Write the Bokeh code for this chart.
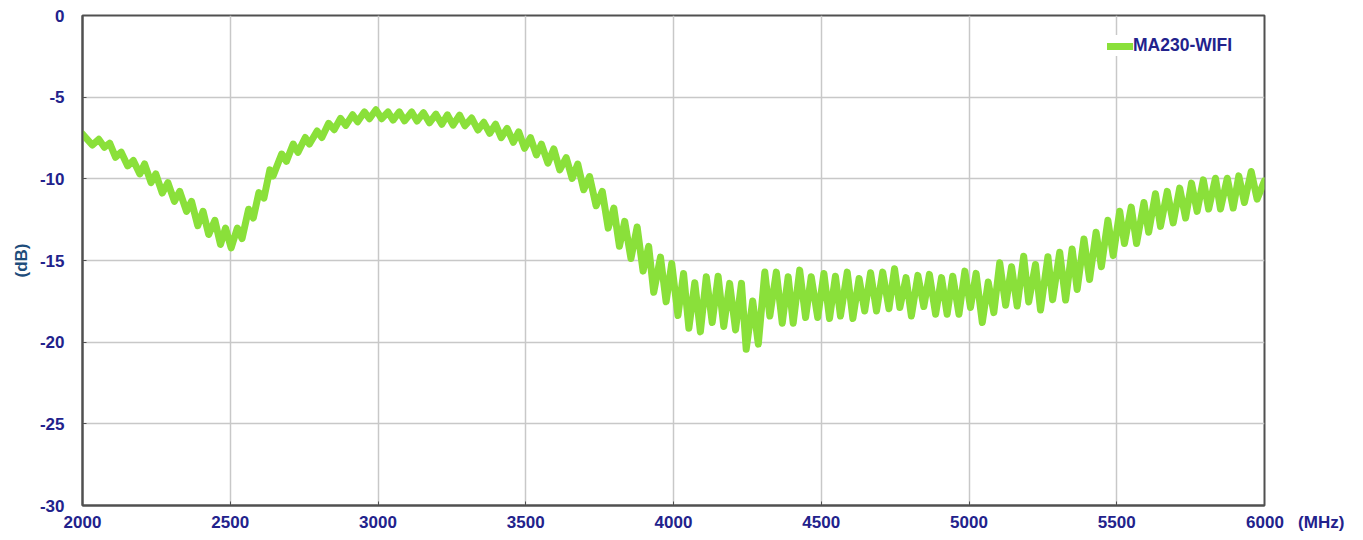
from bokeh.plotting import figure
from bokeh.models import Range1d, FixedTicker, Legend, LegendItem, ColumnDataSource
from bokeh.embed import file_html
from bokeh.resources import INLINE

# Frequency (MHz) of each read extremum of the measured trace
freq_mhz = [
    2000, 2033, 2055, 2074, 2092, 2112, 2131, 2153, 2172, 2194,
    2210, 2232, 2248, 2270, 2289, 2311, 2329, 2352, 2369, 2390,
    2408, 2427, 2448, 2467, 2484, 2503, 2524, 2540, 2562, 2578,
    2597, 2614, 2634, 2645, 2674, 2690, 2713, 2729, 2754, 2768,
    2794, 2810, 2833, 2852, 2873, 2891, 2914, 2931, 2954, 2971,
    2993, 3012, 3034, 3051, 3072, 3090, 3114, 3132, 3154, 3174,
    3196, 3216, 3235, 3254, 3276, 3294, 3317, 3338, 3358, 3378,
    3398, 3417, 3437, 3458, 3476, 3496, 3516, 3536, 3553, 3575,
    3595, 3615, 3637, 3657, 3676, 3696, 3716, 3738, 3759, 3779,
    3798, 3817, 3835, 3856, 3877, 3897, 3916, 3933, 3956, 3975,
    3994, 4015, 4034, 4052, 4072, 4091, 4111, 4131, 4151, 4170,
    4190, 4210, 4230, 4246, 4268, 4287, 4309, 4326, 4348, 4368,
    4388, 4405, 4427, 4447, 4466, 4488, 4509, 4528, 4548, 4565,
    4588, 4607, 4628, 4647, 4667, 4687, 4708, 4729, 4748, 4766,
    4787, 4805, 4827, 4847, 4866, 4887, 4907, 4926, 4945, 4966,
    4986, 5005, 5024, 5045, 5065, 5084, 5104, 5124, 5144, 5163,
    5185, 5202, 5225, 5242, 5267, 5283, 5307, 5327, 5349, 5366,
    5389, 5408, 5430, 5448, 5470, 5488, 5510, 5526, 5549, 5567,
    5592, 5608, 5631, 5648, 5671, 5691, 5713, 5733, 5753, 5772,
    5793, 5811, 5834, 5851, 5874, 5894, 5913, 5932, 5955, 5975,
    6000,
]

# Level (dB) of the MA230-WIFI trace at those frequencies
ma230_wifi_db = [
    -7.26, -7.93, -7.58, -8.07, -7.82, -8.68, -8.37, -9.21, -8.88, -9.70,
    -9.09, -10.23, -9.70, -10.87, -10.23, -11.38, -10.77, -11.99, -11.38, -12.87,
    -11.99, -13.41, -12.54, -14.02, -13.01, -14.23, -13.01, -13.66, -11.86, -12.40,
    -10.84, -11.18, -9.45, -9.82, -8.48, -8.93, -7.87, -8.38, -7.47, -7.87,
    -7.07, -7.47, -6.60, -6.99, -6.30, -6.73, -6.08, -6.51, -5.90, -6.32,
    -5.77, -6.32, -5.91, -6.40, -5.90, -6.45, -5.91, -6.46, -5.95, -6.57,
    -6.04, -6.66, -6.08, -6.71, -6.10, -6.75, -6.28, -7.01, -6.54, -7.21,
    -6.66, -7.48, -6.91, -7.76, -7.12, -8.13, -7.48, -8.54, -7.88, -9.04,
    -8.17, -9.45, -8.70, -9.98, -9.10, -10.67, -9.86, -11.65, -10.77, -13.02,
    -11.79, -14.13, -12.60, -14.88, -12.95, -15.65, -14.13, -16.95, -14.79, -17.53,
    -15.18, -18.37, -15.79, -19.15, -16.36, -19.37, -15.99, -18.80, -15.96, -19.04,
    -16.40, -19.25, -16.40, -20.43, -17.48, -20.12, -15.71, -18.40, -15.71, -18.84,
    -15.99, -18.84, -15.59, -18.49, -15.99, -18.49, -15.79, -18.55, -15.96, -18.40,
    -15.71, -18.55, -16.10, -18.09, -15.75, -18.09, -15.71, -17.95, -15.51, -17.88,
    -16.05, -18.40, -15.91, -17.82, -15.85, -18.29, -16.05, -18.29, -15.96, -18.29,
    -15.65, -17.88, -15.79, -18.80, -16.32, -18.19, -15.14, -17.74, -15.38, -17.79,
    -14.74, -17.54, -15.24, -18.03, -14.77, -17.40, -14.49, -17.42, -14.29, -16.77,
    -13.68, -16.16, -13.27, -15.38, -12.54, -14.70, -11.99, -13.96, -11.73, -13.96,
    -11.45, -13.27, -10.91, -12.91, -10.77, -12.70, -10.57, -12.40, -10.26, -11.99,
    -10.06, -11.85, -9.96, -11.85, -9.96, -11.79, -9.82, -11.45, -9.55, -11.24,
    -10.12,
]

series_name = "MA230-WIFI"
x_ticks = [2000, 2500, 3000, 3500, 4000, 4500, 5000, 5500, 6000]
y_ticks = [-30, -25, -20, -15, -10, -5, 0]
x_unit_label = "(MHz)"
y_unit_label = "(dB)"

GREEN = "#8AE03A"
NAVY = "#22228C"
AXIS = "#505050"
FONT = "Liberation Sans"
NBSP = "\u00a0"

p = figure(
    width=1355, height=534,
    output_backend="svg", toolbar_location=None,
    x_range=Range1d(2000, 6000), y_range=Range1d(-30, 0),
    min_border_left=82, min_border_right=91, min_border_top=15, min_border_bottom=27,
    background_fill_color="white", border_fill_color="white",
)
p.outline_line_color = AXIS
p.outline_line_width = 2

src = ColumnDataSource(dict(freq=freq_mhz, db=ma230_wifi_db))
r = p.line(x="freq", y="db", source=src, line_color=GREEN, line_width=7,
           line_join="round", line_cap="round")

p.xaxis.ticker = FixedTicker(ticks=x_ticks)
p.yaxis.ticker = FixedTicker(ticks=y_ticks)
for ax in (p.xaxis[0], p.yaxis[0]):
    ax.axis_line_color = AXIS
    ax.axis_line_width = 2
    ax.major_tick_in = 4
    ax.major_tick_out = 0
    ax.major_tick_line_color = AXIS
    ax.minor_tick_line_color = None
    ax.major_label_text_font = FONT
    ax.major_label_text_font_style = "bold"
    ax.major_label_text_font_size = "17px"
    ax.major_label_text_color = NAVY

# plain hyphen minus signs, and the unit written on the same line as the last tick
p.yaxis.major_label_overrides = {t: str(t) for t in y_ticks}
x_over = {t: str(t) for t in x_ticks}
x_over[x_ticks[-1]] = NBSP * 13 + str(x_ticks[-1]) + NBSP * 3 + x_unit_label
p.xaxis.major_label_overrides = x_over

p.xaxis.major_label_standoff = 7
p.yaxis.major_label_standoff = 18
p.yaxis.axis_label = y_unit_label
p.yaxis.axis_label_text_font = FONT
p.yaxis.axis_label_text_font_style = "bold"
p.yaxis.axis_label_text_font_size = "17px"
p.yaxis.axis_label_text_color = "#1E4D7B"
p.yaxis.axis_label_standoff = 6

p.xgrid.ticker = FixedTicker(ticks=x_ticks)
p.ygrid.ticker = FixedTicker(ticks=y_ticks)
p.grid.grid_line_color = "#C8C8C8"
p.grid.grid_line_width = 1.5

legend = Legend(
    items=[LegendItem(label=series_name, renderers=[r])],
    location=(1025, 449),
    background_fill_color="white", background_fill_alpha=1.0,
    border_line_color=None,
    label_text_font=FONT, label_text_font_style="bold",
    label_text_font_size="17.5px", label_text_color=NAVY,
    glyph_width=26, glyph_height=20, label_standoff=0,
    padding=15, margin=0, spacing=0,
)
p.add_layout(legend)

open("out.html", "w").write(file_html(p, INLINE))
